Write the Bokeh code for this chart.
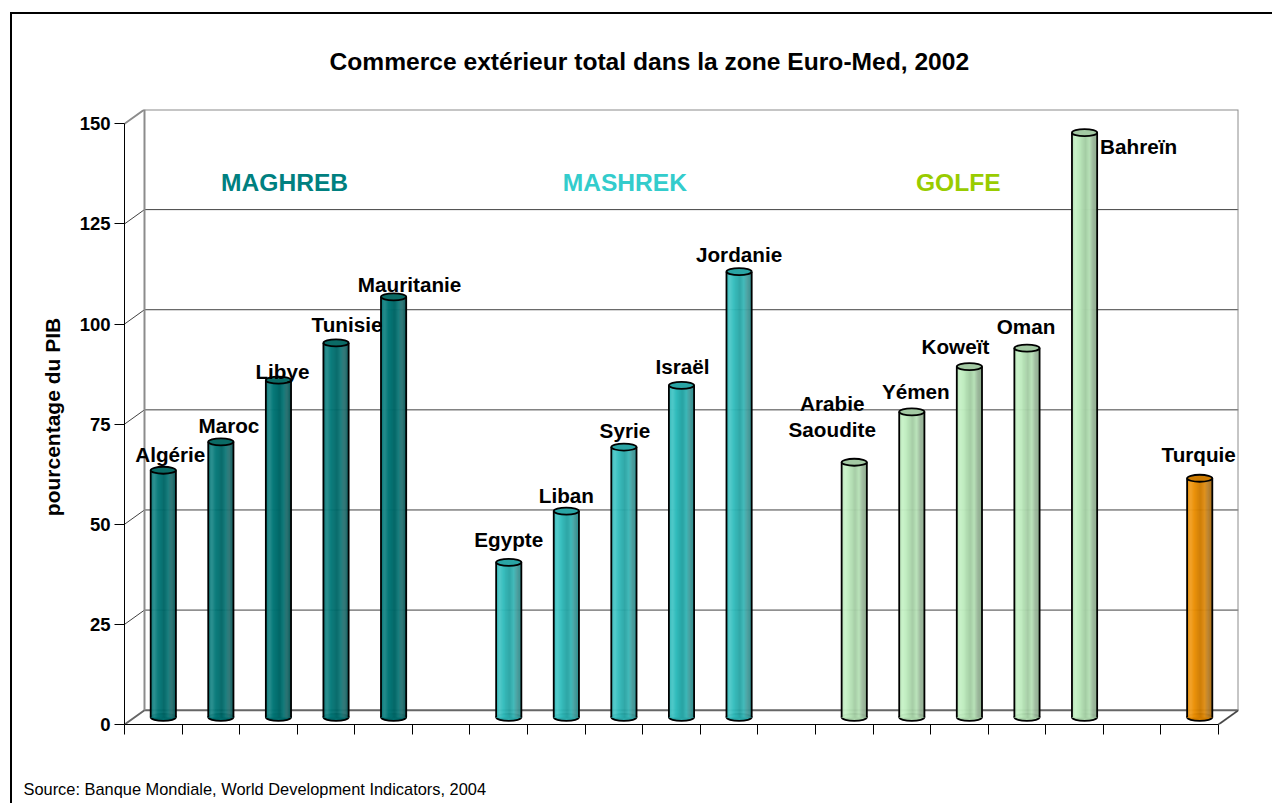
from bokeh.plotting import figure
from bokeh.models import ColumnDataSource, Range1d, LinearAxis, FixedTicker, Title
from bokeh.core.properties import value
from bokeh.embed import file_html
from bokeh.resources import INLINE

# ---- data ----
TITLE = "Commerce extérieur total dans la zone Euro-Med, 2002"
SOURCE = "Source: Banque Mondiale, World Development Indicators, 2004"
Y_LABEL = "pourcentage du PIB"
y_ticks = [0, 25, 50, 75, 100, 125, 150]

countries = ["Algérie", "Maroc", "Libye", "Tunisie", "Mauritanie",
             "Egypte", "Liban", "Syrie", "Israël", "Jordanie",
             "Arabie\nSaoudite", "Yémen", "Koweït", "Oman", "Bahreïn",
             "Turquie"]
slots = [0, 1, 2, 3, 4, 6, 7, 8, 9, 10, 12, 13, 14, 15, 16, 18]
values = [61.7, 68.8, 84.2, 93.5, 105.0,
          38.7, 51.5, 67.5, 82.9, 111.3,
          63.7, 76.3, 87.6, 92.2, 146.0,
          59.7]
groups = [0, 0, 0, 0, 0, 1, 1, 1, 1, 1, 2, 2, 2, 2, 2, 3]
group_colors = ["#008080", "#33CCCC", "#CCFFCC", "#FF9900"]
group_tops = ["#0B6B66", "#2AA5A5", "#A3C9A3", "#CC7A00"]
group_names = ["MAGHREB", "MASHREK", "GOLFE"]
group_text_colors = ["#008080", "#33CCCC", "#99CC00"]
group_label_slots = [2.78, 8.69, 14.48]

# label offsets relative to each bar's top, in pixels (right, up)
label_dx = [7, 8, 4, 11, 16, 0, 0, 1, 1, 0, -22, 4, -14, -1, 54, -1]
label_dy = [16, 16, 9, 18, 12, 23, 16, 17, 19, 17, 46, 20, 20, 22, -14, 24]

# ---- geometry of the 3-D box ----
PX_X = 57.6        # pixels per slot
PX_Y = 4.004       # pixels per unit
DEPTH_X = 20 / PX_X
DEPTH_Y = 14.3 / PX_Y
BAR_W = 25.2 / PX_X
ELL_H = 7.0 / PX_Y
N_SLOTS = 19
FONT = "Liberation Sans"

# the picture's outer rule runs along the top and the left only
OUTER_RULE = ("linear-gradient(black,black) 10px 12px / 100% 2px no-repeat, "
              "linear-gradient(black,black) 10px 12px / 2px 100% no-repeat, white")

p = figure(width=1272, height=803, output_backend="svg", toolbar_location=None,
           x_range=Range1d(0, N_SLOTS + DEPTH_X), y_range=Range1d(0, 150 + DEPTH_Y),
           x_axis_type=None, y_axis_type=None,
           min_border_left=124, min_border_right=34, min_border_top=109, min_border_bottom=79,
           background_fill_color="white", border_fill_color=None,
           styles={"background": OUTER_RULE})
p.grid.visible = False
p.outline_line_color = None

# walls: left-wall diagonals and back-wall grid
vals = y_ticks
p.segment([DEPTH_X] * 5, [v + DEPTH_Y for v in vals[1:-1]],
          [N_SLOTS + DEPTH_X] * 5, [v + DEPTH_Y for v in vals[1:-1]],
          line_color="#404040", line_width=1)
p.segment([0] * 5, vals[1:-1], [DEPTH_X] * 5, [v + DEPTH_Y for v in vals[1:-1]],
          line_color="#404040", line_width=1)
# floor
p.line([0, DEPTH_X, N_SLOTS + DEPTH_X, N_SLOTS], [0, DEPTH_Y, DEPTH_Y, 0],
       line_color="#666666", line_width=2)
# wall edges
p.line([0, DEPTH_X, N_SLOTS + DEPTH_X, N_SLOTS + DEPTH_X],
       [150, 150 + DEPTH_Y, 150 + DEPTH_Y, DEPTH_Y], line_color="#8C8C8C", line_width=2)
p.line([DEPTH_X, DEPTH_X], [DEPTH_Y, 150 + DEPTH_Y], line_color="#8C8C8C", line_width=2)
p.line([N_SLOTS, N_SLOTS + DEPTH_X], [0, DEPTH_Y], line_color="#404040", line_width=1)

# cylinders
STOPS = [(0.0, 0.02, 0.12), (0.15, 0.16, 0.05), (0.30, 0.02, 0.08), (0.55, 0.00, 0.20),
         (0.70, 0.08, 0.12), (0.85, 0.25, 0.28), (1.0, 0.05, 0.32)]
N_STRIP = 25

def shade(hexcol, t):
    for (t0, l0, d0), (t1, l1, d1) in zip(STOPS, STOPS[1:]):
        if t <= t1:
            f = (t - t0) / (t1 - t0)
            l, d = l0 + (l1 - l0) * f, d0 + (d1 - d0) * f
            break
    rgb = [int(hexcol[i:i + 2], 16) for i in (1, 3, 5)]
    rgb = [(c + (255 - c) * l) * (1 - d) for c in rgb]
    return "#%02x%02x%02x" % tuple(int(round(c)) for c in rgb)

centers = [s + 0.5 + DEPTH_X / 2 for s in slots]
base = DEPTH_Y / 2

left, right, top, bottom, fill = [], [], [], [], []
for c, v, g in zip(centers, values, groups):
    for k in range(N_STRIP):
        left.append(c - BAR_W / 2 + BAR_W * k / N_STRIP)
        right.append(c - BAR_W / 2 + BAR_W * (k + 1) / N_STRIP)
        top.append(v + base)
        bottom.append(base)
        fill.append(shade(group_colors[g], (k + 0.5) / N_STRIP))

p.ellipse(centers, [base] * len(centers), width=BAR_W, height=ELL_H,
          fill_color=[shade(group_colors[g], 0.5) for g in groups], line_color="black", line_width=1.8)
p.quad(left=left, right=right, top=top, bottom=bottom, fill_color=fill, line_color=fill, line_width=0.6)
p.segment([c - BAR_W / 2 for c in centers], [base] * len(centers),
          [c - BAR_W / 2 for c in centers], [v + base for v in values], line_color="black", line_width=1.8)
p.segment([c + BAR_W / 2 for c in centers], [base] * len(centers),
          [c + BAR_W / 2 for c in centers], [v + base for v in values], line_color="black", line_width=1.8)
p.ellipse(centers, [v + base for v in values], width=BAR_W, height=ELL_H,
          fill_color=[group_tops[g] for g in groups], line_color="black", line_width=1.8)

# axes
yax = LinearAxis(bounds=(0, 150), ticker=FixedTicker(ticks=y_ticks), axis_label=Y_LABEL)
yax.axis_line_color = "black"
yax.major_tick_line_color = "black"
yax.major_tick_in = 0
yax.major_tick_out = 10
yax.minor_tick_line_color = None
yax.major_label_text_font = FONT
yax.major_label_text_font_style = "bold"
yax.major_label_text_font_size = "18.5px"
yax.major_label_text_color = "black"
yax.major_label_standoff = 4
yax.axis_label_text_font = FONT
yax.axis_label_text_font_style = "bold"
yax.axis_label_text_font_size = "21px"
yax.axis_label_text_color = "black"
yax.axis_label_standoff = 13
p.add_layout(yax, "left")

xax = LinearAxis(bounds=(0, N_SLOTS), ticker=FixedTicker(ticks=list(range(N_SLOTS + 1))))
xax.axis_line_color = "black"
xax.major_tick_line_color = "black"
xax.major_tick_in = 0
xax.major_tick_out = 10
xax.minor_tick_line_color = None
xax.major_label_text_font_size = "0px"
xax.major_label_text_color = None
xax.major_label_standoff = 0
p.add_layout(xax, "below")

# an unseen axis that only holds the source line away from the real one
spacer = LinearAxis(ticker=FixedTicker(ticks=[1]))
spacer.axis_line_color = None
spacer.major_tick_line_color = None
spacer.minor_tick_line_color = None
spacer.major_tick_in = 0
spacer.major_tick_out = 43
spacer.major_label_text_font_size = "0px"
spacer.major_label_text_color = None
spacer.major_label_standoff = 0
p.add_layout(spacer, "below")

# bar labels
src = ColumnDataSource(dict(x=centers, y=[v + base for v in values], t=countries,
                            dx=label_dx, dy=[-d for d in label_dy]))
p.text(x="x", y="y", text="t", x_offset="dx", y_offset="dy", source=src,
       text_font=value(FONT), text_font_style="bold", text_font_size="20.7px",
       text_align="center", text_baseline="alphabetic", text_color="black",
       text_line_height=1.15)

# group labels
p.text(x=group_label_slots, y=[135.4] * 3, text=group_names,
       text_font=value(FONT), text_font_style="bold", text_font_size="24.6px",
       text_align="center", text_baseline="alphabetic", text_color=group_text_colors)

# title and source
p.add_layout(Title(text=TITLE, align="left", offset=205, standoff=69,
                   text_font=FONT, text_font_style="bold", text_font_size="24.6px",
                   text_color="black"), "above")
p.add_layout(Title(text=SOURCE, align="left", offset=-101, standoff=0,
                   text_font=FONT, text_font_style="normal", text_font_size="16.4px",
                   text_color="black"), "below")

open("out.html", "w").write(file_html(p, INLINE))
